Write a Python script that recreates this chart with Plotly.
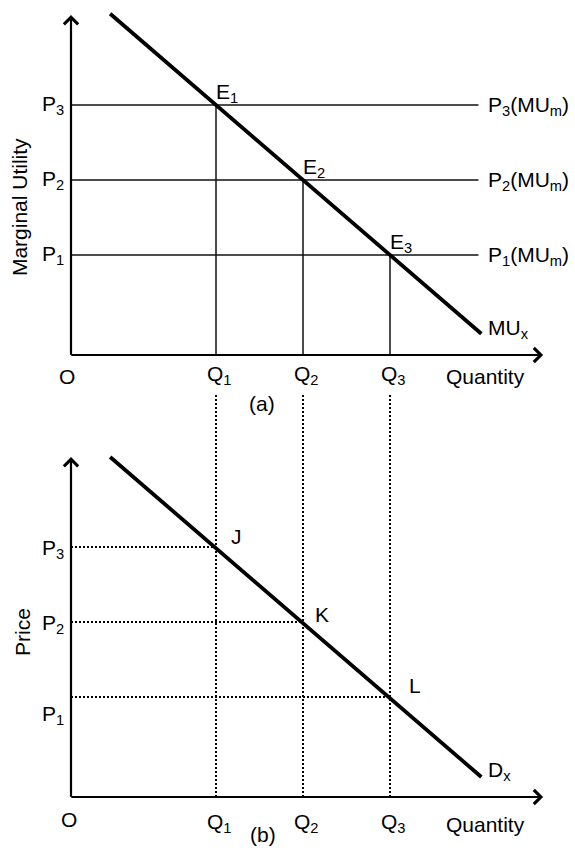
import plotly.graph_objects as go

# ---------------- data (economic units) ----------------
quantities = [5, 8, 11]              # Q1, Q2, Q3
q_labels = ["Q<sub>1</sub>", "Q<sub>2</sub>", "Q<sub>3</sub>"]
prices = [10, 7, 4]                  # P3, P2, P1 (paired with Q1, Q2, Q3)
p_labels = ["P<sub>3</sub>", "P<sub>2</sub>", "P<sub>1</sub>"]
mum_labels = ["P<sub>3</sub>(MU<sub>m</sub>)", "P<sub>2</sub>(MU<sub>m</sub>)", "P<sub>1</sub>(MU<sub>m</sub>)"]
eq_labels_top = ["E<sub>1</sub>", "E<sub>2</sub>", "E<sub>3</sub>"]
eq_labels_bot = ["J", "K", "L"]

mu_q = [1.35, 14.15]                 # MU_x curve end points
mu_p = [13.65, 0.85]
d_q = [1.35, 14.15]                  # D_x curve end points
d_p = [13.6, 0.8]

# ---------------- layout constants ----------------
W, H = 575, 850
PXQ, PXP = 29.0, 25.0                # pixels per unit
ORIGIN_X = 71
TOP_ORIGIN_Y, BOT_ORIGIN_Y = 355, 797
X_TIP = 16.28
Y_TIP = 13.6
MUM_END = 14.05
DOT_TOP = 16.1

FONT = dict(family="Liberation Sans, Arial, sans-serif", size=21, color="black")

x_range = [-ORIGIN_X / PXQ, (W - ORIGIN_X) / PXQ]
y1_range = [-(H - TOP_ORIGIN_Y) / PXP, TOP_ORIGIN_Y / PXP]
y2_range = [-(H - BOT_ORIGIN_Y) / PXP, BOT_ORIGIN_Y / PXP]

fig = go.Figure()

thin = dict(color="#111111", width=1.5)
dotted = dict(color="black", width=2, dash="2px,2px")

# ---- top panel (a) ----
for q, p in zip(quantities, prices):
    fig.add_trace(go.Scatter(x=[0, MUM_END], y=[p, p], mode="lines", line=thin, yaxis="y"))
    fig.add_trace(go.Scatter(x=[q, q], y=[0, p], mode="lines", line=thin, yaxis="y"))
fig.add_trace(go.Scatter(x=mu_q, y=mu_p, mode="lines",
                         line=dict(color="black", width=3.8), yaxis="y"))

# ---- bottom panel (b) ----
for q, p in zip(quantities, prices):
    fig.add_trace(go.Scatter(x=[0, q], y=[p, p], mode="lines", line=dotted, yaxis="y2"))
    fig.add_trace(go.Scatter(x=[q, q], y=[0, DOT_TOP], mode="lines", line=dotted, yaxis="y2"))
fig.add_trace(go.Scatter(x=d_q, y=d_p, mode="lines",
                         line=dict(color="black", width=3.8), yaxis="y2"))

annotations = []


def arrow(x, y, ax, ay, yref):
    annotations.append(dict(x=x, y=y, ax=ax, ay=ay, xref="x", yref=yref,
                            axref="x", ayref=yref, text="", showarrow=True,
                            arrowhead=4, arrowsize=1.25, arrowwidth=2.2,
                            arrowcolor="black", standoff=0))


def label(text, x, y, yref, xanchor="center", yanchor="middle", xshift=0, yshift=0, angle=0):
    annotations.append(dict(text=text, x=x, y=y, xref="x", yref=yref,
                            xanchor=xanchor, yanchor=yanchor, xshift=xshift,
                            yshift=yshift, showarrow=False, font=FONT,
                            textangle=angle))


for yref in ("y", "y2"):
    arrow(0, Y_TIP, 0, -0.05, yref)
    arrow(X_TIP, 0, -0.04, 0, yref)

# top labels
label("O", 0, 0, "y", "center", "top", xshift=-4, yshift=-8)
for q, ql in zip(quantities, q_labels):
    label(ql, q, 0, "y", "center", "top", xshift=3, yshift=-5)
label("Quantity", 12.85, 0, "y", "left", "top", yshift=-8)
label("(a)", 6.6, -1.92, "y")
for q, p, pl, ml, el in zip(quantities, prices, p_labels, mum_labels, eq_labels_top):
    label(pl, 0, p, "y", "right", "middle", xshift=-5)
    label(ml, MUM_END, p, "y", "left", "middle", xshift=8, yshift=-1)
    label(el, q, p, "y", "left", "bottom", xshift=-2, yshift=-3)
label("MU<sub>x</sub>", mu_q[1], mu_p[1], "y", "left", "middle", xshift=5, yshift=5)
label("Marginal Utility", -1.79, 5.92, "y", angle=-90)

# bottom labels
label("O", 0, 0, "y2", "center", "top", xshift=-2, yshift=-9)
for q, ql in zip(quantities, q_labels):
    label(ql, q, 0, "y2", "center", "top", xshift=3, yshift=-11)
label("Quantity", 12.85, 0, "y2", "left", "top", yshift=-14)
label("(b)", 6.62, -1.5, "y2")
bot_shift = [0, 0, -16]
bot_x = [13, 10, 17]
bot_y = [-3, -6, -2]
for q, p, pl, el, s, bx, by in zip(quantities, prices, p_labels, eq_labels_bot, bot_shift, bot_x, bot_y):
    label(pl, 0, p, "y2", "right", "middle", xshift=-5, yshift=s - 2)
    label(el, q, p, "y2", "left", "bottom", xshift=bx, yshift=by)
label("D<sub>x</sub>", d_q[1], d_p[1], "y2", "left", "middle", xshift=5, yshift=6)
label("Price", -1.69, 6.6, "y2", angle=-90)

fig.update_layout(
    width=W, height=H,
    margin=dict(l=0, r=0, t=0, b=0, pad=0),
    paper_bgcolor="white", plot_bgcolor="white",
    showlegend=False,
    xaxis=dict(range=x_range, visible=False, fixedrange=True),
    yaxis=dict(range=y1_range, visible=False, fixedrange=True),
    yaxis2=dict(range=y2_range, visible=False, overlaying="y", fixedrange=True),
    annotations=annotations,
    hovermode=False,
)

fig.write_html("out.html")
